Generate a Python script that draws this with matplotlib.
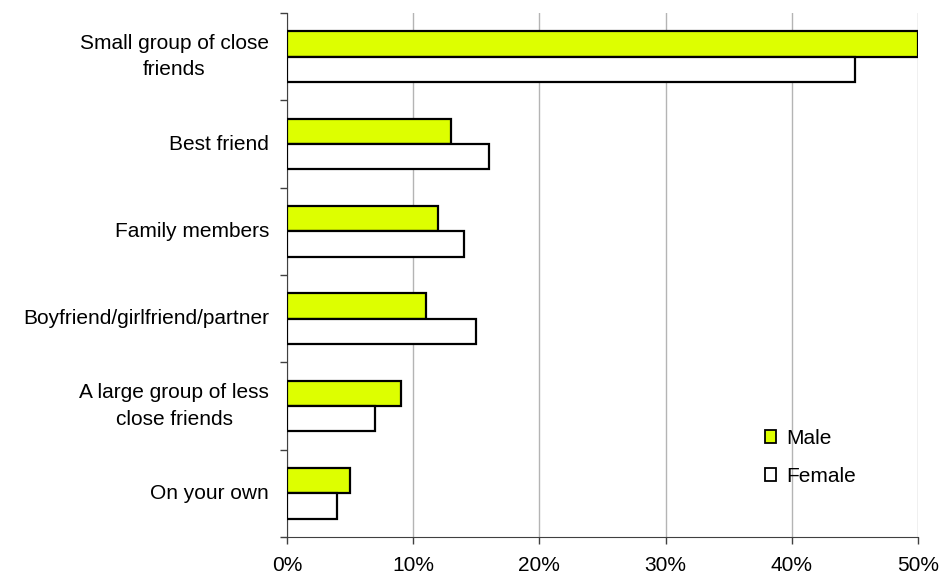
import numpy as np
import matplotlib.pyplot as plt
from matplotlib.patches import Patch
from matplotlib.ticker import FixedLocator, FuncFormatter

plt.rcParams['font.family'] = ['Liberation Sans', 'DejaVu Sans']

categories = ['Small group of close\nfriends', 'Best friend', 'Family members',
              'Boyfriend/girlfriend/partner', 'A large group of less\nclose friends',
              'On your own']
male = [50, 13, 12, 11, 9, 5]
female = [45, 16, 14, 15, 7, 4]

fig = plt.figure(figsize=(9.42, 5.77), dpi=100)
ax = fig.add_axes([287 / 942, 40 / 577, 631 / 942, 524 / 577])

n = len(categories)
pos = np.arange(n)[::-1]
h = 0.29
ax.barh(pos + h / 2, male, height=h, color='#ddff00', edgecolor='black', linewidth=1.6,
        label='Male', zorder=3)
ax.barh(pos - h / 2, female, height=h, color='white', edgecolor='black', linewidth=1.6,
        label='Female', zorder=3)

ax.set_xlim(0, 50)
ax.set_ylim(-0.5, n - 0.5)
ax.set_xticks(np.arange(0, 51, 10))
ax.xaxis.set_major_formatter(FuncFormatter(lambda v, p: f'{v:.0f}%'))
ax.grid(axis='x', color='#b4b4b4', linewidth=1, zorder=0)

# category labels sit between the boundary ticks
ax.yaxis.set_major_locator(FixedLocator(np.arange(-0.5, n, 1.0)))
ax.yaxis.set_major_formatter(FuncFormatter(lambda v, p: ''))
ax.yaxis.set_minor_locator(FixedLocator(pos))
ax.set_yticklabels(categories, minor=True, ha='right', va='center',
                   multialignment='center', linespacing=1.5)
ax.tick_params(axis='y', which='minor', length=0, pad=13, labelsize=15)
ax.tick_params(axis='y', which='major', length=5, width=1, color='#404040', direction='out')
ax.tick_params(axis='x', length=5, width=1, color='#404040', direction='out', labelsize=15, pad=9)

for s in ('top', 'right'):
    ax.spines[s].set_visible(False)
ax.spines['left'].set_color('#404040')
ax.spines['bottom'].set_color('#404040')

handles = [Patch(facecolor='#ddff00', edgecolor='black', linewidth=1.3, label='Male'),
           Patch(facecolor='white', edgecolor='black', linewidth=1.3, label='Female')]
ax.legend(handles=handles, loc='upper left', bbox_to_anchor=(0.741, 0.226), frameon=False,
          fontsize=15, handlelength=0.55, handleheight=0.55, handletextpad=0.45,
          labelspacing=0.9, borderpad=0)

fig.savefig('out.png', dpi=100)
